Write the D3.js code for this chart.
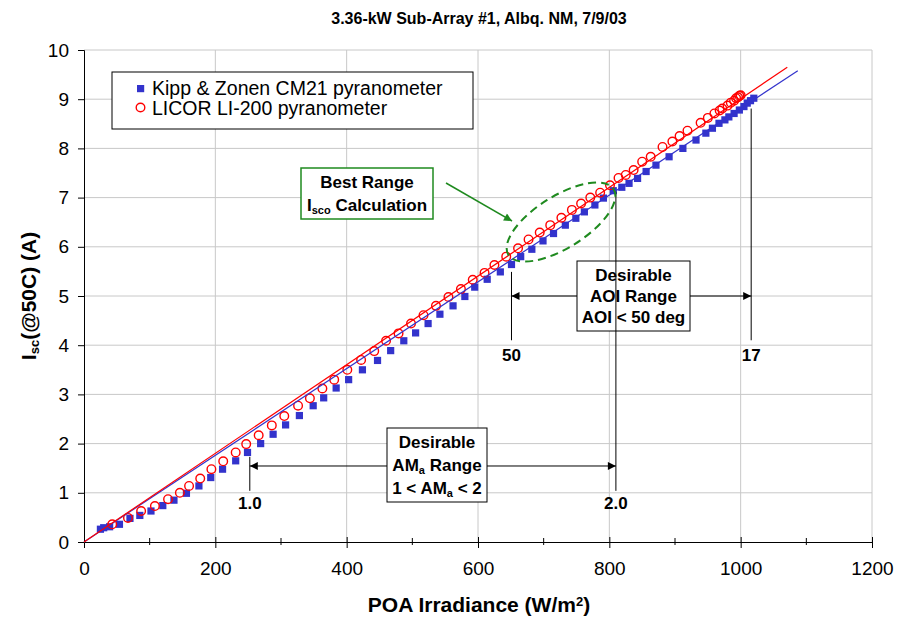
<!DOCTYPE html>
<html>
<head>
<meta charset="utf-8">
<script src="https://cdn.jsdelivr.net/npm/d3@7"></script>
<style>
  body { margin: 0; background: #fff; }
  text { font-family: 'Liberation Sans', Arial, sans-serif; }
</style>
</head>
<body>
<div id="chart"></div>
<script>

// Kipp & Zonen CM21 pyranometer (W/m2, A)
var kippX = [25, 30, 39, 54, 70, 85, 102, 120, 137, 156, 175, 193, 211, 231, 249, 269, 288, 307,
  328, 349, 365, 384, 403, 424, 447, 467, 487, 505, 524, 542, 562, 580, 595, 614, 634, 651, 665,
  682, 699, 715, 733, 749, 762, 778, 791, 806, 819, 830, 843, 856, 871, 891, 912, 932, 947, 957,
  967, 976, 982, 990, 998, 1005, 1010, 1015, 1020];
var kippY = [0.26, 0.29, 0.31, 0.36, 0.48, 0.54, 0.63, 0.74, 0.85, 0.99, 1.14, 1.31, 1.48, 1.65,
  1.82, 2.00, 2.19, 2.38, 2.57, 2.77, 2.93, 3.13, 3.30, 3.50, 3.69, 3.89, 4.09, 4.25, 4.44, 4.63,
  4.80, 4.99, 5.18, 5.34, 5.49, 5.64, 5.80, 5.95, 6.12, 6.27, 6.44, 6.58, 6.71, 6.85, 6.99, 7.14,
  7.21, 7.29, 7.39, 7.53, 7.66, 7.83, 8.00, 8.17, 8.31, 8.41, 8.51, 8.58, 8.64, 8.71, 8.78, 8.85,
  8.92, 8.97, 9.02];

// LICOR LI-200 pyranometer (W/m2, A)
var licorX = [43, 67, 87, 108, 128, 146, 160, 177, 194, 212, 231, 247, 266, 286, 305, 326, 344,
  363, 381, 401, 422, 442, 460, 479, 498, 517, 536, 555, 574, 592, 610, 625, 643, 661, 677, 694,
  710, 727, 743, 757, 771, 786, 801, 814, 825, 837, 850, 863, 881, 896, 907, 919, 939, 950, 960,
  968, 972, 980, 985, 990, 993, 996, 998, 1000];
var licorY = [0.36, 0.49, 0.63, 0.73, 0.87, 1.00, 1.14, 1.29, 1.48, 1.64, 1.82, 1.99, 2.17, 2.37,
  2.56, 2.77, 2.92, 3.12, 3.30, 3.50, 3.70, 3.88, 4.09, 4.24, 4.44, 4.61, 4.80, 4.98, 5.14, 5.33,
  5.47, 5.63, 5.80, 5.97, 6.15, 6.29, 6.44, 6.59, 6.75, 6.88, 7.00, 7.10, 7.25, 7.40, 7.46, 7.56,
  7.73, 7.83, 8.03, 8.14, 8.25, 8.36, 8.52, 8.62, 8.71, 8.77, 8.81, 8.87, 8.93, 8.97, 9.02, 9.04,
  9.07, 9.08];

// linear fits through the origin, end points
var kippFit = [[0, 0], [1087, 9.58]];
var licorFit = [[0, 0], [1071, 9.65]];

var xTicks = [0, 200, 400, 600, 800, 1000, 1200];
var xMinor = [100, 300, 500, 700, 900, 1100];
var yTicks = [0, 1, 2, 3, 4, 5, 6, 7, 8, 9, 10];

var legendLabels = ['Kipp & Zonen CM21 pyranometer', 'LICOR LI-200 pyranometer'];

var COLORS = { kipp: '#3333cc', licor: '#ff0000', grid: '#c8c8c8', green: '#1f8a1f' };
var FONT = "'Liberation Sans', Arial, sans-serif";

var settings = {
  width: 898,
  height: 619,
  margin: [50, 26, 77, 84]
};

function translate(x, y) {
  return 'translate(' + x + ',' + y + ')';
}

var svg = d3.select('#chart').append('svg')
  .attr('width', settings.width)
  .attr('height', settings.height);

svg.append('rect')
  .attr('width', settings.width)
  .attr('height', settings.height)
  .attr('fill', '#fff');

var x = d3.scaleLinear().domain([0, 1200])
  .range([settings.margin[3], settings.width - settings.margin[1]]);
var y = d3.scaleLinear().domain([0, 10])
  .range([settings.height - settings.margin[2], settings.margin[0]]);

// grid
var grid = svg.append('g').attr('class', 'grid');
grid.selectAll('.gy').data(yTicks.slice(1)).enter().append('line')
  .attr('x1', x(0)).attr('x2', x(1200))
  .attr('y1', function(d) { return y(d); })
  .attr('y2', function(d) { return y(d); })
  .attr('stroke', COLORS.grid).attr('stroke-width', 1);
grid.selectAll('.gx').data(xTicks.slice(1)).enter().append('line')
  .attr('y1', y(0)).attr('y2', y(10))
  .attr('x1', function(d) { return x(d); })
  .attr('x2', function(d) { return x(d); })
  .attr('stroke', COLORS.grid).attr('stroke-width', 1);

// axes
var xAxis = svg.append('g')
  .attr('transform', translate(0, y(0)))
  .call(d3.axisBottom(x).tickValues(xTicks).tickFormat(d3.format('d'))
    .tickSize(6).tickPadding(14));
xAxis.selectAll('.tick line').attr('y1', -5).attr('y2', 6);

var xMinorG = svg.append('g')
  .attr('transform', translate(0, y(0)));
xMinorG.selectAll('line').data(xMinor).enter().append('line')
  .attr('x1', function(d) { return x(d); })
  .attr('x2', function(d) { return x(d); })
  .attr('y1', -4).attr('y2', 3)
  .attr('stroke', '#000');

var yAxis = svg.append('g')
  .attr('transform', translate(x(0), 0))
  .call(d3.axisLeft(y).tickValues(yTicks).tickSize(6).tickPadding(9));

[xAxis, yAxis].forEach(function(a) {
  a.attr('font-family', FONT).attr('font-size', 19);
  a.selectAll('text').attr('fill', '#000');
  a.select('.domain').attr('stroke', '#000');
  a.selectAll('.tick line').attr('stroke', '#000');
});

// fit lines
var line = d3.line()
  .x(function(d) { return x(d[0]); })
  .y(function(d) { return y(d[1]); });

// data
var plot = svg.append('g').attr('class', 'plots');

plot.selectAll('.kipp').data(d3.zip(kippX, kippY)).enter().append('rect')
  .attr('class', 'kipp')
  .attr('x', function(d) { return x(d[0]) - 3.6; })
  .attr('y', function(d) { return y(d[1]) - 3.6; })
  .attr('width', 7.2).attr('height', 7.2)
  .attr('fill', COLORS.kipp);

plot.selectAll('.licor').data(d3.zip(licorX, licorY)).enter().append('circle')
  .attr('class', 'licor')
  .attr('cx', function(d) { return x(d[0]); })
  .attr('cy', function(d) { return y(d[1]); })
  .attr('r', 4.3)
  .attr('fill', 'none')
  .attr('stroke', COLORS.licor)
  .attr('stroke-width', 1.4);

plot.append('path').attr('d', line(kippFit))
  .attr('fill', 'none').attr('stroke', COLORS.kipp).attr('stroke-width', 1.2);
plot.append('path').attr('d', line(licorFit))
  .attr('fill', 'none').attr('stroke', COLORS.licor).attr('stroke-width', 1.2);

// annotations
var defs = svg.append('defs');
function marker(id, color) {
  defs.append('marker')
    .attr('id', id)
    .attr('viewBox', '0 0 10 10')
    .attr('refX', 10).attr('refY', 5)
    .attr('markerWidth', 10).attr('markerHeight', 8)
    .attr('markerUnits', 'userSpaceOnUse')
    .attr('orient', 'auto-start-reverse')
    .append('path').attr('d', 'M0,0L10,5L0,10Z').attr('fill', color);
}
marker('arrowBlack', '#000');
marker('arrowGreen', COLORS.green);

var notes = svg.append('g').attr('class', 'notes');

function vline(v, i0, i1) {
  notes.append('line')
    .attr('x1', x(v)).attr('x2', x(v))
    .attr('y1', y(i0)).attr('y2', y(i1))
    .attr('stroke', '#000').attr('stroke-width', 1);
}

function arrow(v0, v1, i) {
  notes.append('line')
    .attr('x1', x(v0)).attr('x2', x(v1))
    .attr('y1', y(i)).attr('y2', y(i))
    .attr('stroke', '#000').attr('stroke-width', 1)
    .attr('marker-start', 'url(#arrowBlack)')
    .attr('marker-end', 'url(#arrowBlack)');
}

function label(v, py, txt) {
  notes.append('text')
    .attr('x', x(v)).attr('y', py)
    .attr('text-anchor', 'middle')
    .attr('font-size', 17).attr('font-weight', 'bold')
    .text(txt);
}

// box with lines of text; each line is a list of [text, sub?]
function box(x0, y0, w, h, lines, stroke, sw) {
  var g = notes.append('g');
  g.append('rect')
    .attr('x', x0).attr('y', y0).attr('width', w).attr('height', h)
    .attr('fill', '#fff').attr('stroke', stroke).attr('stroke-width', sw);
  var lh = (h - 6) / lines.length;
  lines.forEach(function(parts, i) {
    var t = g.append('text')
      .attr('x', x0 + w / 2)
      .attr('y', y0 + 3 + lh * (i + 0.5) + 6)
      .attr('text-anchor', 'middle')
      .attr('font-size', 17).attr('font-weight', 'bold');
    parts.forEach(function(p) {
      var s = t.append('tspan').text(p[0]);
      if (p[1] === 'sub') s.attr('font-size', 11).attr('baseline-shift', '-25%');
    });
  });
}

// AOI range
vline(651, 5.49, 4.1);
vline(1016, 8.81, 4.1);
arrow(651, 1016, 5.0);
label(651, 361, '50');
label(1016, 361, '17');
box(577, 261, 113, 70, [[['Desirable']], [['AOI Range']], [['AOI < 50 deg']]], '#000', 1);

// AMa range
vline(252.5, 1.73, 1.04);
vline(810, 7.12, 1.04);
arrow(252.5, 810, 1.545);
label(252.5, 509, '1.0');
label(810, 509, '2.0');
box(387, 428, 100, 74,
  [[['Desirable']], [['AM'], ['a', 'sub'], [' Range']], [['1 < AM'], ['a', 'sub'], [' < 2']]],
  '#000', 1);

// best range ellipse + callout
notes.append('ellipse')
  .attr('transform', translate(561, 222) + ' rotate(-32)')
  .attr('rx', 62).attr('ry', 26)
  .attr('fill', 'none')
  .attr('stroke', COLORS.green).attr('stroke-width', 2)
  .attr('stroke-dasharray', '8,5');
box(301, 168, 132, 51, [[['Best Range']], [['I'], ['sco', 'sub'], [' Calculation']]], COLORS.green, 1.5);
notes.append('line')
  .attr('x1', 446).attr('y1', 183).attr('x2', 512).attr('y2', 221)
  .attr('stroke', COLORS.green).attr('stroke-width', 1.5)
  .attr('marker-end', 'url(#arrowGreen)');

// legend
var legend = svg.append('g').attr('transform', translate(112, 72));
legend.append('rect')
  .attr('width', 361).attr('height', 57)
  .attr('fill', '#fff').attr('stroke', '#000').attr('stroke-width', 1);
legend.append('rect')
  .attr('x', 25).attr('y', 13).attr('width', 7.2).attr('height', 7.2)
  .attr('fill', COLORS.kipp);
legend.append('circle')
  .attr('cx', 28.5).attr('cy', 35.5).attr('r', 4.3)
  .attr('fill', 'none').attr('stroke', COLORS.licor).attr('stroke-width', 1.4);
legend.selectAll('.lt').data(legendLabels).enter().append('text')
  .attr('x', 40)
  .attr('y', function(d, i) { return 23 + i * 20; })
  .attr('font-size', 19.5)
  .text(function(d) { return d; });

// titles
svg.append('text')
  .attr('x', 479).attr('y', 24)
  .attr('text-anchor', 'middle')
  .attr('font-size', 16).attr('font-weight', 'bold')
  .text('3.36-kW Sub-Array #1, Albq. NM, 7/9/03');

var xt = svg.append('text')
  .attr('x', 479).attr('y', 612)
  .attr('text-anchor', 'middle')
  .attr('font-size', 21).attr('font-weight', 'bold');
xt.append('tspan').text('POA Irradiance (W/m');
xt.append('tspan').text('2').attr('font-size', 13).attr('baseline-shift', '45%');
xt.append('tspan').text(')');

var yt = svg.append('text')
  .attr('transform', translate(36, 296) + ' rotate(-90)')
  .attr('text-anchor', 'middle')
  .attr('font-size', 21).attr('font-weight', 'bold');
yt.append('tspan').text('I');
yt.append('tspan').text('sc').attr('font-size', 13).attr('baseline-shift', '-25%');
yt.append('tspan').text('(@50C) (A)');

</script>
</body>
</html>
